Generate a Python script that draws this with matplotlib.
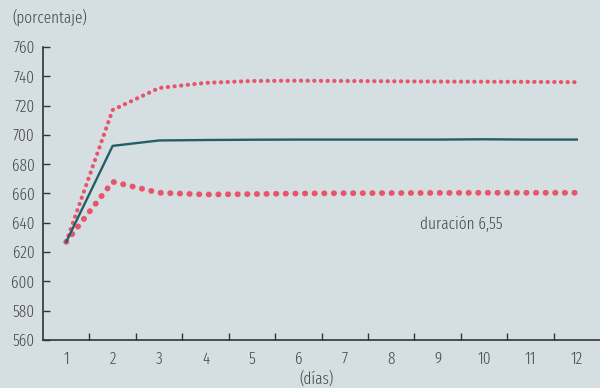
import matplotlib
matplotlib.use("Agg")
import matplotlib.pyplot as plt

days = [1, 2, 3, 4, 5, 6, 7, 8, 9, 10, 11, 12]
central = [627, 692.5, 696.2, 696.5, 696.7, 696.8, 696.8, 696.8, 696.8, 697, 696.8, 696.8]
upper = [627, 717, 732, 735.5, 736.8, 737, 736.8, 736.6, 736.4, 736.3, 736.2, 736]
lower = [627, 668, 660.5, 659.3, 659.6, 660, 660.2, 660.3, 660.4, 660.5, 660.5, 660.5]
yticks = [560, 580, 600, 620, 640, 660, 680, 700, 720, 740, 760]

plt.rcParams['font.family'] = ['Fira Sans Extra Condensed', 'DejaVu Sans']
plt.rcParams['font.weight'] = 300

bg = '#d5dfe2'
txt = '#4a4a4a'
pink = '#e8546a'
teal = '#245f66'

fig = plt.figure(figsize=(6, 3.88), dpi=100, facecolor=bg)
ax = fig.add_axes([0.0717, 0.1237, 0.9283, 0.7552], facecolor=bg)

ax.plot(days, upper, color=pink, lw=3.0, linestyle=(0, (0.05, 1.55)), dash_capstyle='round')
ax.plot(days, lower, color=pink, lw=4.2, linestyle=(0, (0.05, 1.6)), dash_capstyle='round')
ax.plot(days, central, color=teal, lw=1.7)

ax.set_xlim(0.5, 12.5)
ax.set_ylim(560, 760)
ax.set_yticks(yticks)
ax.set_xticks(days)
ax.set_xticks([d + 0.5 for d in days[:-1]], minor=True)
ax.tick_params(axis='x', which='major', length=0, labelsize=12, colors=txt, pad=8)
ax.tick_params(axis='x', which='minor', direction='in', length=5, width=1, color='#333333')
ax.tick_params(axis='y', direction='in', length=5, width=1, color='#333333', labelsize=12, labelcolor=txt, pad=6)

for s in ['top', 'right']:
    ax.spines[s].set_visible(False)
for s in ['left', 'bottom']:
    ax.spines[s].set_color('#333333')
    ax.spines[s].set_linewidth(1.2)

ax.text(9.5, 639, 'duración 6,55', fontsize=12, color=txt, ha='center', va='center')
fig.text(0.02, 0.955, '(porcentaje)', fontsize=12, color=txt, ha='left', va='center')
fig.text(0.527, 0.025, '(días)', fontsize=12, color=txt, ha='center', va='center')

fig.savefig('out.png', dpi=100, facecolor=bg)
